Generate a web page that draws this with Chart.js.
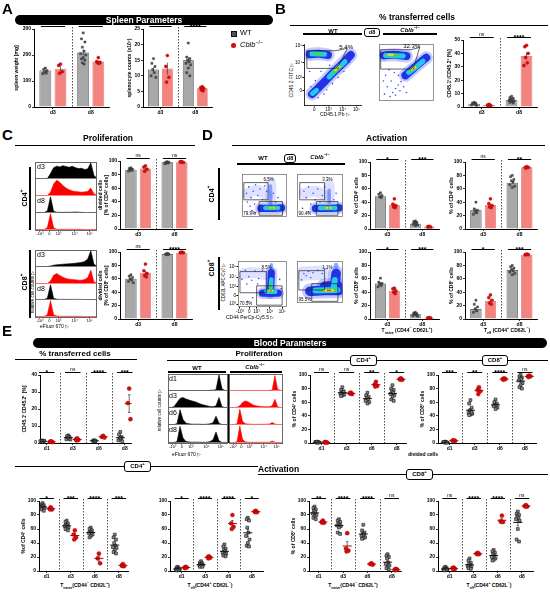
<!DOCTYPE html>
<html>
<head>
<meta charset="UTF-8" />
<title>Spleen and blood parameters</title>
<script src="https://cdn.jsdelivr.net/npm/chart.js"></script>
<style>
  body { margin: 0; background: #fff; font-family: 'Liberation Sans', Arial, sans-serif; }
  #fig { position: relative; width: 550px; height: 595px; overflow: hidden; }
  canvas { z-index: 1; }
  .t { position: absolute; white-space: nowrap; line-height: 1; z-index: 5; }
  .t sup { font-size: 70%; vertical-align: super; line-height: 0; }
  .t sub { font-size: 70%; vertical-align: sub; line-height: 0; }
  .rule { position: absolute; background: #000; z-index: 2; }
  .tag { position: absolute; border: 1px solid #000; border-radius: 3px; background: #fff; font-weight: bold; text-align: center; box-sizing: border-box; z-index: 4; }
  .tag sup { font-size: 70%; vertical-align: super; line-height: 0; }
  .band { position: absolute; background: #000; color: #fff; font-weight: bold; text-align: center; border-radius: 6px; z-index: 3; }
  .frame { position: absolute; border: 0.8px solid #666; box-sizing: border-box; pointer-events: none; z-index: 3; }
</style>
</head>
<body>
<div id="fig"></div>
<script>
// ---- values ----
const days2 = ['d3', 'd8']
const days4 = ['d1', 'd3', 'd6', 'd8']

// A: spleen weight [mg]
const spleenBarWT = [140, 210]
const spleenBarKO = [147, 175]
const spleenWT = [[150, 145, 140, 135, 130, 128], [285, 262, 250, 230, 215, 205, 200, 190, 185, 180, 170, 165]]
const spleenKO = [[165, 160, 136, 130], [190, 175, 172, 170, 168]]

// A: splenocyte counts (x10^7)
const cellsBarWT = [12, 15]
const cellsBarKO = [12.3, 6]
const cellsWT = [[15.5, 14, 13, 12, 11, 10, 9.5], [20.5, 16, 15.5, 15, 14.5, 14, 13.5, 12.5, 11, 10]]
const cellsKO = [[16.5, 13, 9.5, 8], [6.5, 6.2, 6, 5.5, 5.2]]

// B: CD45.1+/CD45.2+ [%]
const transBarWT = [2.5, 5]
const transBarKO = [1.5, 38]
const transWT = [[3.5, 3, 2.8, 2.5, 2, 1.5, 1.2], [8, 7, 6.5, 6, 5.5, 5, 4.5, 4, 3.5, 3]]
const transKO = [[2, 1.5, 1.2, 1], [46, 45, 40, 37, 33, 31]]

// C: divided cells
const divCD4BarWT = [87, 98]
const divCD4BarKO = [89, 98]
const divCD4WT = [[90, 89, 88, 87, 86, 85], [99, 98, 98, 97, 97, 96]]
const divCD4KO = [[93, 91, 88, 85], [99, 99, 98, 98]]
const divCD8BarWT = [60, 97]
const divCD8BarKO = [69, 99]
const divCD8WT = [[66, 64, 62, 60, 58, 56, 54], [98, 97, 97, 96, 96]]
const divCD8KO = [[82, 72, 68, 65, 63], [100, 99, 99, 99]]

// D: activation
const naiveCD4BarWT = [49, 8]
const naiveCD4BarKO = [36, 3.5]
const naiveCD4WT = [[54, 52, 50, 48, 47], [12, 11, 10, 9, 8, 7, 6, 5]]
const naiveCD4KO = [[45, 37, 35, 33, 32], [4, 3.5, 3, 3]]
const effCD4BarWT = [28, 69]
const effCD4BarKO = [36, 92]
const effCD4WT = [[40, 30, 28, 26, 24, 22], [80, 78, 74, 72, 70, 66, 64, 62]]
const effCD4KO = [[45, 38, 35, 33, 32], [93, 92, 92, 91]]
const naiveCD8BarWT = [53, 7]
const naiveCD8BarKO = [42, 1.7]
const naiveCD8WT = [[61, 55, 53, 52, 50, 48], [10, 9, 8, 7, 6, 5, 4]]
const naiveCD8KO = [[46, 45, 42, 40, 38], [2, 1.8, 1.5, 1.5]]
const effCD8BarWT = [15, 73]
const effCD8BarKO = [27, 96]
const effCD8WT = [[28, 22, 18, 15, 12, 10], [80, 78, 76, 74, 72, 70, 68, 66]]
const effCD8KO = [[36, 32, 28, 24, 22], [97, 96, 96, 96]]

// E: blood
const bTransWT = [[1.5, 1.2, 1, 0.8, 0.6, 1, 1.3, 0.9], [4.5, 4, 3.5, 3, 2.5, 2.2, 2, 3.2], [1.6, 1.4, 1.2, 1.0, 1.3], [6.5, 5, 3.5, 2.5, 2, 1.5, 1, 3]]
const bTransKO = [[0.9, 0.7, 0.5, 0.8], [2.8, 2.2, 1.8, 1.5], [4.2, 3.6, 3.2], [32, 23.5, 14]]
const bDivCD4WT = [[2, 1.5, 1, 0.5, 1, 1.5, 0.8, 1.2], [82, 78, 76, 74, 73, 72, 71, 70, 69, 75], [74, 70, 68, 66, 64, 62, 60, 58], [85, 80, 78, 76, 74, 72, 70, 68, 64, 62]]
const bDivCD4KO = [[1.5, 1, 0.5, 1], [74, 73, 72, 73], [90, 86, 84, 83], [95, 94, 93, 93]]
const bDivCD8WT = [[2, 1.5, 1, 0.5, 1, 1.5, 0.5], [63, 58, 52, 48, 46, 44, 43, 42, 41, 45], [64, 60, 58, 56, 55, 54, 52, 50], [100, 98, 96, 95, 94, 92, 88, 85, 82, 80]]
const bDivCD8KO = [[4, 3.5, 3, 3], [82, 78, 76, 72], [95, 94, 94, 93], [99, 98, 98, 97]]
const bNaiveCD4WT = [[97, 95, 94, 93, 92, 91, 90, 89, 88, 86], [72, 70, 68, 66, 65, 64, 62, 61, 60, 58], [62, 60, 58, 56, 55, 54, 52, 50, 48], [52, 48, 45, 40, 36, 34, 33, 30, 27, 25]]
const bNaiveCD4KO = [[91, 89, 88, 88], [58, 52, 48, 45], [25, 18, 11], [10, 8, 7, 7]]
const bEffCD4WT = [[6, 5, 4, 3, 3, 2, 2, 1, 1, 2], [14, 12, 11, 10, 9, 8, 8, 7, 6, 6], [38, 35, 32, 30, 28, 26, 25, 24, 22, 21], [76, 74, 72, 62, 55, 50, 45, 40, 36, 35]]
const bEffCD4KO = [[6, 5, 5, 4], [21, 20, 19, 18], [80, 68, 63, 60], [86, 85, 84, 84]]
const bNaiveCD8WT = [[92, 90, 88, 86, 84, 82, 80, 78, 76, 74], [74, 72, 70, 68, 66, 65, 64, 62, 55, 53], [66, 58, 55, 53, 52, 50, 48, 47, 46], [24, 22, 20, 18, 12, 10, 8, 6, 4, 2]]
const bNaiveCD8KO = [[72, 70, 69, 69], [54, 32, 29, 28], [11, 10, 9, 10], [3, 2, 2, 1]]
const bEffCD8WT = [[6, 5, 4, 3, 3, 2, 2, 1, 1, 2], [18, 15, 12, 10, 8, 7, 6, 5, 4, 3], [30, 28, 26, 24, 22, 20, 18, 16, 15], [85, 82, 80, 78, 76, 74, 72, 60, 45, 42]]
const bEffCD8KO = [[5, 4, 3, 3], [26, 25, 24, 24], [79, 71, 70, 70], [94, 93, 92, 92]]

// eFluor 670 histograms, heights every 5 units of the axis
const histTicks = ['-10³', '0', '10³', '10⁴', '10⁵']
const histTickAt = [8, 23, 38, 64, 88]
const cd4d3WT = [0, 0, 0, 0, 0, 30, 65, 75, 70, 78, 72, 68, 74, 66, 60, 62, 55, 58, 95, 20, 0]
const cd4d3KO = [0, 0, 0, 0, 0, 20, 70, 92, 80, 60, 45, 35, 28, 25, 22, 20, 22, 25, 45, 10, 0]
const cd4d8WT = [0, 0, 0, 0, 10, 95, 8, 2, 1, 1, 1, 1, 2, 3, 2, 1, 0, 0, 0, 0, 0]
const cd4d8KO = [0, 0, 0, 0, 12, 96, 10, 2, 1, 1, 1, 1, 1, 1, 1, 1, 0, 0, 0, 0, 0]
const cd8d3WT = [0, 0, 0, 0, 0, 3, 8, 10, 12, 14, 15, 16, 18, 20, 22, 25, 30, 45, 95, 15, 0]
const cd8d3KO = [0, 0, 0, 0, 0, 15, 50, 60, 48, 38, 30, 26, 24, 22, 20, 20, 24, 35, 80, 10, 0]
const cd8d8WT = [0, 0, 0, 0, 10, 95, 8, 2, 1, 1, 1, 1, 1, 1, 1, 1, 0, 0, 0, 0, 0]
const cd8d8KO = [0, 0, 0, 0, 12, 96, 10, 3, 1, 1, 1, 1, 1, 1, 1, 1, 0, 0, 0, 0, 0]
const bloodWT = [
  [0, 0, 0, 0, 0, 0, 0, 0, 0, 0, 0, 0, 0, 0, 1, 2, 5, 95, 10, 0, 0],
  [0, 0, 5, 30, 55, 60, 52, 45, 40, 35, 28, 20, 15, 10, 6, 4, 10, 60, 5, 0, 0],
  [0, 0, 0, 5, 90, 30, 8, 4, 2, 2, 2, 1, 1, 2, 4, 10, 50, 8, 0, 0, 0],
  [0, 0, 0, 5, 92, 25, 6, 3, 2, 2, 2, 1, 1, 2, 5, 15, 60, 10, 0, 0, 0]
]
const bloodKO = [
  [0, 0, 0, 0, 0, 0, 0, 0, 0, 0, 0, 0, 0, 0, 0, 1, 3, 90, 8, 0, 0],
  [0, 0, 0, 2, 10, 30, 40, 35, 25, 15, 10, 8, 6, 5, 4, 5, 10, 50, 5, 0, 0],
  [0, 0, 0, 5, 92, 20, 5, 3, 2, 1, 1, 1, 1, 1, 2, 3, 12, 3, 0, 0, 0],
  [0, 0, 0, 5, 94, 18, 4, 2, 1, 1, 1, 1, 1, 1, 1, 2, 8, 2, 0, 0, 0]
]

// flow plots: population ridges per density level, on a 0-100 display scale
const flowTicks = ['0', '10³', '10⁴', '10⁵']
const flowTicks5 = ['-10³', '0', '10³', '10⁴', '10⁵']
const flowBWT = {
  blue: [[[10, 83], [26, 84], [42, 82]], [[14, 18], [24, 27], [36, 38], [48, 50], [60, 61], [72, 72], [82, 82]]],
  cyan: [[[14, 84], [36, 83]], [[15, 19], [22, 24]], [[44, 46], [58, 59], [72, 71]]],
  green: [[[18, 84], [30, 84]], [[50, 52], [64, 64]]],
  yellow: [[[55, 57], [63, 63]]],
  red: [[[58, 59], [61, 61]]],
  sparse: [[20, 40], [30, 55], [12, 30], [40, 25], [50, 35], [25, 12], [35, 18], [60, 45], [70, 55], [45, 65], [80, 70], [10, 55]]
}
const flowBKO = {
  blue: [[[8, 80], [28, 81], [50, 79]], [[48, 45], [60, 55], [72, 65], [86, 76]]],
  cyan: [[[12, 80], [44, 79]], [[54, 50], [68, 60], [80, 70]]],
  green: [[[15, 81], [34, 80]], [[57, 53], [68, 61]]],
  yellow: [[[17, 81], [25, 81]], [[60, 55], [66, 59]]],
  red: [[[62, 56], [64, 58]]],
  sparse: [[20, 8], [25, 15], [30, 22], [35, 28], [40, 34], [44, 40], [15, 25], [22, 35], [10, 12], [30, 10], [38, 18], [12, 45], [18, 55], [28, 50], [8, 35], [45, 25], [50, 15], [35, 45]]
}
const flowD4WT = {
  haze: [[[12, 55], [35, 62], [55, 50]], [[64, 80], [64, 40]]],
  lblue: [[[63, 72], [64, 50], [63, 30]]],
  blue: [[[42, 20], [66, 20], [88, 21]]],
  cyan: [[[52, 21], [80, 21]]],
  green: [[[58, 21], [75, 21]]],
  yellow: [[[63, 21], [71, 21]]],
  red: [[[66, 21], [68, 21]]],
  sparse: [[10, 55], [15, 70], [20, 45], [25, 60], [30, 75], [35, 50], [40, 65], [45, 40], [50, 72], [12, 35], [28, 30], [42, 28], [55, 60], [70, 55], [75, 35], [80, 45], [85, 25], [22, 15], [30, 10], [18, 25]]
}
const flowD4KO = {
  haze: [[[15, 55], [40, 60], [60, 50]], [[70, 75], [70, 40]]],
  lblue: [[[70, 62], [70, 35]]],
  blue: [[[40, 20], [68, 20], [92, 21]]],
  cyan: [[[50, 21], [84, 21]]],
  green: [[[58, 21], [78, 21]]],
  yellow: [[[64, 21], [74, 21]]],
  red: [[[68, 21], [70, 21]]],
  sparse: [[15, 60], [25, 70], [35, 55], [45, 65], [20, 45], [40, 40], [55, 50], [60, 70], [30, 30], [50, 35], [80, 40], [85, 55], [12, 20], [25, 12]]
}
const flowD8WT = {
  haze: [[[10, 72], [30, 75], [55, 70]]],
  lblue: [[[68, 92], [68, 60]]],
  blue: [[[68, 75], [67, 50], [66, 30]], [[50, 30], [82, 30]]],
  cyan: [[[68, 60], [67, 42]], [[58, 33], [76, 33]]],
  green: [[[62, 35], [72, 35]], [[67, 48], [67, 38]]],
  yellow: [[[64, 35], [70, 35]]],
  red: [[[66, 35], [68, 35]]],
  sparse: [[8, 60], [15, 80], [22, 66], [35, 78], [42, 62], [50, 80], [28, 58], [18, 50], [40, 50], [85, 60], [88, 40], [30, 20], [20, 12]]
}
const flowD8KO = {
  haze: [[[12, 70], [55, 72]]],
  lblue: [[[85, 90], [84, 50]]],
  blue: [[[28, 28], [60, 30], [92, 30]], [[85, 70], [82, 40]], [[60, 40], [88, 42]]],
  cyan: [[[40, 30], [88, 31]], [[82, 55], [80, 38]]],
  green: [[[52, 30], [82, 31]]],
  yellow: [[[60, 30], [78, 30]]],
  red: [[[66, 30], [73, 30]]],
  sparse: [[15, 70], [25, 75], [35, 72], [20, 65], [45, 78], [55, 70], [30, 60], [10, 55], [60, 80], [88, 60]]
}

// ---- styles ----
const GREY = '#a8a8a8', PINK = '#f3837f', RED = '#d10f0f'
const FONT = "'Liberation Sans', Arial, sans-serif"
const FLOW_LAYERS = [
  ['haze', 'rgba(70,90,255,0.18)', 12],
  ['halo', 'rgba(40,60,255,0.28)', 13],
  ['lblue', 'rgba(60,100,255,0.55)', 4],
  ['blue', '#2233e6', 8],
  ['cyan', '#22c8f0', 5],
  ['green', '#39d957', 3],
  ['yellow', '#f2e02a', 2],
  ['red', '#ee3020', 1.2]
]

Chart.defaults.font.family = FONT
Chart.defaults.color = '#000'
Chart.defaults.animation = false
Chart.defaults.plugins.legend.display = false
Chart.defaults.plugins.tooltip.enabled = false

const fig = document.getElementById('fig')

function canvasAt(l, t, w, h) {
  const c = document.createElement('canvas')
  c.width = w
  c.height = h
  c.style.cssText = `position:absolute;left:${l}px;top:${t}px;width:${w}px;height:${h}px`
  fig.appendChild(c)
  return c
}

function txt(html, x, y, o = {}) {
  const d = document.createElement('div')
  d.className = 't'
  d.innerHTML = html
  let tr = o.align === 'l' ? 'none' : 'translateX(-50%)'
  if (o.rot) tr = 'translate(-50%,-50%) rotate(-90deg)'
  d.style.cssText = `left:${x}px;top:${y}px;font-size:${o.size || 6}px;font-weight:${o.bold ? 'bold' : 'normal'};` +
    `font-style:${o.it ? 'italic' : 'normal'};transform:${tr};color:${o.color || '#000'}`
  fig.appendChild(d)
}

function rule(x1, y1, x2, y2, w = 1) {
  const d = document.createElement('div')
  d.className = 'rule'
  if (y1 === y2) d.style.cssText = `left:${x1}px;top:${y1 - w / 2}px;width:${x2 - x1}px;height:${w}px`
  else d.style.cssText = `left:${x1 - w / 2}px;top:${y1}px;width:${w}px;height:${y2 - y1}px`
  fig.appendChild(d)
}

function tag(html, x1, x2, y1, y2, size = 6) {
  const d = document.createElement('div')
  d.className = 'tag'
  d.innerHTML = html
  d.style.cssText = `left:${x1}px;top:${y1}px;width:${x2 - x1}px;height:${y2 - y1}px;font-size:${size}px;line-height:${y2 - y1 - 2}px`
  fig.appendChild(d)
}

function band(text, x1, x2, y1, y2) {
  const d = document.createElement('div')
  d.className = 'band'
  d.textContent = text
  d.style.cssText = `left:${x1}px;top:${y1}px;width:${x2 - x1}px;height:${y2 - y1}px;font-size:8.5px;line-height:${y2 - y1}px`
  fig.appendChild(d)
}

function frame(l, t, r, b) {
  const d = document.createElement('div')
  d.className = 'frame'
  d.style.cssText = `left:${l}px;top:${t}px;width:${r - l}px;height:${b - t}px`
  fig.appendChild(d)
}

function noPad(s) {
  s.paddingLeft = 0; s.paddingRight = 0; s.paddingTop = 0; s.paddingBottom = 0
}

// separators and significance brackets
function decoPlugin(o) {
  return {
    id: 'deco',
    afterDatasetsDraw(chart) {
      const { ctx, chartArea: a, scales: { x } } = chart
      ctx.save()
      ctx.strokeStyle = '#000'
      ctx.fillStyle = '#000'
      ctx.lineWidth = 0.7
      ctx.setLineDash([1.5, 1.5])
      for (let g = 1; g < o.groups.length; g++) {
        const px = Math.round(x.getPixelForValue(g + 0.5)) + 0.5
        ctx.beginPath(); ctx.moveTo(px, a.top - 2); ctx.lineTo(px, a.bottom); ctx.stroke()
      }
      ctx.setLineDash([])
      ctx.lineWidth = 1
      ctx.textAlign = 'center'
      o.sig.forEach((s, i) => {
        const g = i + 1
        const x1 = x.getPixelForValue(g - o.half), x2 = x.getPixelForValue(g + o.half)
        const yy = a.top - 2.5
        ctx.beginPath(); ctx.moveTo(x1, yy); ctx.lineTo(x2, yy); ctx.stroke()
        if (s === 'ns') { ctx.font = `5px ${FONT}`; ctx.fillText(s, (x1 + x2) / 2, yy - 1.2) }
        else { ctx.font = `bold 7px ${FONT}`; ctx.fillText(s, (x1 + x2) / 2, yy + 2.2) }
      })
      ctx.restore()
    }
  }
}

const JIT = [0, -1, 1, -0.5, 0.5, -1.5, 1.5]

function stats(vals) {
  const n = vals.length
  const m = vals.reduce((s, v) => s + v, 0) / n
  const sd = Math.sqrt(vals.reduce((s, v) => s + (v - m) ** 2, 0) / Math.max(1, n - 1))
  return { m, se: sd / Math.sqrt(n) }
}

// grouped WT / Cblb-/- panel: bars with points (A-D) or points with mean +- SEM (E)
function groupChart(o) {
  const padT = 10, padR = 2, xH = 8
  const W = o.r - o.l, H = o.b - o.t
  const cv = canvasAt(o.l - o.yW, o.t - padT, W + o.yW + padR, H + padT + xH)
  const isBar = !!o.barWT
  const off = isBar ? 0.2 : 0.17
  const jit = isBar ? 0.045 : 0.05
  const ds = []
  const pointsOf = (sets, sign) => {
    const out = []
    sets.forEach((vals, gi) => vals.forEach((v, i) => out.push({ x: gi + 1 + sign * off + JIT[i % 7] * jit, y: v })))
    return out
  }
  const whisk = []
  const meansWT = [], meansKO = []
  o.wt.forEach((vals, gi) => {
    ;[[vals, -1, isBar ? o.barWT[gi] : null, meansWT], [o.ko[gi], 1, isBar ? o.barKO[gi] : null, meansKO]].forEach(([v, sign, bar, store]) => {
      const st = stats(v)
      const m = bar === null ? st.m : bar
      const x = gi + 1 + sign * off
      store.push({ x, y: m })
      whisk.push({ x, y: m - st.se }, { x, y: m + st.se }, { x, y: null })
      if (!isBar) whisk.push({ x: x - 0.05, y: m + st.se }, { x: x + 0.05, y: m + st.se }, { x, y: null },
        { x: x - 0.05, y: m - st.se }, { x: x + 0.05, y: m - st.se }, { x, y: null })
    })
  })
  if (isBar) {
    const bars = []
    o.groups.forEach((g, gi) => { bars.push(meansWT[gi], meansKO[gi]) })
    ds.push({
      type: 'bar', data: bars, order: 3, grouped: false, categoryPercentage: 1, barPercentage: 0.78,
      backgroundColor: bars.map((_, i) => i % 2 ? PINK : GREY),
      borderColor: bars.map((_, i) => i % 2 ? '#e05a5a' : '#333'), borderWidth: 0.7
    })
  } else {
    ds.push({ type: 'scatter', data: meansWT, order: 0, pointStyle: 'line', pointRadius: 4.5, borderColor: '#111', borderWidth: 1 })
    ds.push({ type: 'scatter', data: meansKO, order: 0, pointStyle: 'line', pointRadius: 4.5, borderColor: '#b00', borderWidth: 1 })
  }
  ds.push({ type: 'line', data: whisk, order: 2, borderColor: '#333', borderWidth: 0.7, pointRadius: 0, spanGaps: false, clip: false })
  ds.push({
    type: 'scatter', data: pointsOf(o.wt, -1), order: 1, clip: false, pointStyle: 'rect',
    pointRadius: isBar ? 1.5 : 2, backgroundColor: isBar ? '#555' : '#8a8a8a', borderColor: '#111', borderWidth: isBar ? 0.3 : 0.6
  })
  ds.push({
    type: 'scatter', data: pointsOf(o.ko, 1), order: 1, clip: false, pointStyle: 'circle',
    pointRadius: isBar ? 1.6 : 2.1, backgroundColor: RED, borderColor: '#a00', borderWidth: 0.3
  })

  new Chart(cv, {
    type: isBar ? 'bar' : 'scatter',
    data: { datasets: ds },
    options: {
      responsive: false,
      layout: { padding: { top: padT, right: padR, left: 0, bottom: 0 } },
      scales: {
        x: {
          type: 'linear', min: o.xmin, max: o.xmax, offset: false,
          afterBuildTicks: ax => { ax.ticks = o.groups.map((_, i) => ({ value: i + 1 })) },
          ticks: { callback: v => o.groups[Math.round(v) - 1], font: { size: 5, weight: 'bold' }, padding: 1, autoSkip: false, maxRotation: 0 },
          grid: { drawOnChartArea: false, offset: false, tickLength: 2, color: '#000', lineWidth: 0.8 },
          border: { color: '#000', width: 1 },
          afterFit: s => { s.height = xH; noPad(s) }
        },
        y: {
          min: 0, max: o.ymax,
          ticks: { stepSize: o.ystep, font: { size: 5, weight: 'bold' }, padding: 1 },
          grid: { drawOnChartArea: false, tickLength: 2, color: '#000', lineWidth: 0.8 },
          border: { color: '#000', width: 1 },
          title: { display: !!o.ytitle, text: o.ytitle, font: { size: 5, weight: 'bold' }, padding: { top: 0, bottom: 1 } },
          afterFit: s => { s.width = o.yW; noPad(s) }
        }
      }
    },
    plugins: [decoPlugin({ groups: o.groups, sig: o.sig, half: isBar ? 0.32 : 0.3 })]
  })
}

function histRow(l, t, w, h, vals, color, showTicks) {
  const xH = showTicks ? 7 : 0
  const cv = canvasAt(l, t, w, h + xH)
  new Chart(cv, {
    type: 'line',
    data: { datasets: [{ data: vals.map((v, i) => ({ x: i * 5, y: v })), borderColor: color, backgroundColor: color, borderWidth: 0.6, fill: 'origin', pointRadius: 0, tension: 0 }] },
    options: {
      responsive: false,
      layout: { padding: 0 },
      scales: {
        x: {
          type: 'linear', min: 0, max: 100, display: showTicks,
          afterBuildTicks: ax => { ax.ticks = histTickAt.map(v => ({ value: v })) },
          ticks: { callback: (v, i) => histTicks[i], font: { size: 4 }, padding: 0, autoSkip: false, maxRotation: 0 },
          grid: { drawOnChartArea: false, tickLength: 1.5, color: '#000' },
          border: { display: false },
          afterFit: s => { s.height = xH; noPad(s) }
        },
        y: { min: -3, max: 100, display: false }
      }
    }
  })
}

function histStack(l, r, rows, series) {
  series.forEach(([vals, color], i) => histRow(l, rows[i], r - l, rows[i + 1] - rows[i], vals, color, i === series.length - 1))
  frame(l, rows[0], r, rows[rows.length - 1] + 1)
}

function boxPoly(x1, y1, x2, y2) { return [[x1, y1], [x1, y2], [x2, y2], [x2, y1]] }

function gatePlugin(o) {
  return {
    id: 'gates',
    afterDatasetsDraw(chart) {
      const { ctx, chartArea: a, scales: { x, y } } = chart
      ctx.save()
      if (o.frame) {
        ctx.strokeStyle = '#777'; ctx.lineWidth = 0.8
        ctx.strokeRect(a.left + 0.5, a.top + 0.5, a.right - a.left - 1, a.bottom - a.top - 1)
      }
      ctx.strokeStyle = '#222'; ctx.lineWidth = 0.7
      o.gates.forEach(poly => {
        ctx.beginPath()
        poly.forEach(([gx, gy], i) => {
          const px = x.getPixelForValue(gx), py = y.getPixelForValue(gy)
          i ? ctx.lineTo(px, py) : ctx.moveTo(px, py)
        })
        ctx.closePath(); ctx.stroke()
      })
      ctx.fillStyle = '#000'; ctx.font = `${o.fs}px ${FONT}`; ctx.textBaseline = 'middle'
      o.labels.forEach(([t, lx, ly]) => ctx.fillText(t, x.getPixelForValue(lx), y.getPixelForValue(ly)))
      ctx.restore()
    }
  }
}

function flowPlot(o) {
  const W = o.r - o.l, H = o.b - o.t
  const yW = o.yticks ? 9 : 0, xH = o.xticks ? 6 : 0
  const k = o.k || 1
  const cv = canvasAt(o.l - yW, o.t, W + yW + 1, H + xH + 1)
  const ds = []
  FLOW_LAYERS.forEach(([key, color, width], li) => {
    const paths = key === 'halo' ? (o.data.blue || []) : (o.data[key] || [])
    paths.forEach(path => ds.push({
      type: 'line', data: path.map(p => ({ x: p[0], y: p[1] })), order: 20 - li,
      borderColor: color, borderWidth: width * k, borderCapStyle: 'round', borderJoinStyle: 'round',
      tension: 0.4, pointRadius: 0, fill: false, clip: 0
    }))
  })
  ds.push({ type: 'scatter', data: o.data.sparse.map(p => ({ x: p[0], y: p[1] })), order: 30, pointRadius: 0.8, backgroundColor: '#3a4cff', borderWidth: 0, clip: 0 })
  const axis = (ticks, at, size) => ({
    type: 'linear', min: 0, max: 100, display: !!ticks,
    afterBuildTicks: ax => { ax.ticks = (at || []).map(v => ({ value: v })) },
    ticks: { callback: (v, i) => ticks[i], font: { size: 4.5 }, padding: 0.5, autoSkip: false, maxRotation: 0 },
    grid: { drawOnChartArea: false, tickLength: 1.5, color: '#000' },
    border: { display: !o.frame, color: '#000', width: 0.8 },
    afterFit: s => { if (s.isHorizontal()) s.height = size; else s.width = size; noPad(s) }
  })
  new Chart(cv, {
    type: 'scatter',
    data: { datasets: ds },
    options: {
      responsive: false,
      layout: { padding: { right: 1, top: 0, left: 0, bottom: o.xticks ? 0 : 1 } },
      scales: {
        x: axis(o.xticks, o.xat, xH),
        y: axis(o.yticks, o.yat, yW)
      }
    },
    plugins: [gatePlugin({ frame: o.frame, gates: o.gates, labels: o.labels, fs: o.fs || 4.5 })]
  })
}

// ---- charts ----
groupChart({ l: 34, t: 29, r: 112, b: 107, yW: 20, xmin: 0.5, xmax: 2.5, ymax: 300, ystep: 100, groups: days2,
  ytitle: 'spleen weight [mg]', barWT: spleenBarWT, barKO: spleenBarKO, wt: spleenWT, ko: spleenKO, sig: ['ns', 'ns'] })
groupChart({ l: 143, t: 29, r: 215, b: 107, yW: 16, xmin: 0.5, xmax: 2.5, ymax: 25, ystep: 5, groups: days2,
  ytitle: 'splenocyte counts (x10⁷)', barWT: cellsBarWT, barKO: cellsBarKO, wt: cellsWT, ko: cellsKO, sig: ['ns', '****'] })
groupChart({ l: 463, t: 40, r: 540, b: 107, yW: 16, xmin: 0.5, xmax: 2.5, ymax: 50, ystep: 10, groups: days2,
  ytitle: 'CD45.1⁺/CD45.2⁺ [%]', barWT: transBarWT, barKO: transBarKO, wt: transWT, ko: transKO, sig: ['ns', '****'] })
groupChart({ l: 120, t: 161, r: 195, b: 229, yW: 22, xmin: 0.5, xmax: 2.5, ymax: 100, ystep: 20, groups: days2,
  ytitle: ['divided cells', '[% of CD4⁺ cells]'], barWT: divCD4BarWT, barKO: divCD4BarKO, wt: divCD4WT, ko: divCD4KO, sig: ['ns', 'ns'] })
groupChart({ l: 120, t: 252, r: 195, b: 319, yW: 22, xmin: 0.5, xmax: 2.5, ymax: 100, ystep: 20, groups: days2,
  ytitle: ['divided cells', '[% of CD8⁺ cells]'], barWT: divCD8BarWT, barKO: divCD8BarKO, wt: divCD8WT, ko: divCD8KO, sig: ['ns', '****'] })
groupChart({ l: 370, t: 162, r: 442, b: 229, yW: 16, xmin: 0.5, xmax: 2.5, ymax: 100, ystep: 20, groups: days2,
  ytitle: '% of CD4⁺ cells', barWT: naiveCD4BarWT, barKO: naiveCD4BarKO, wt: naiveCD4WT, ko: naiveCD4KO, sig: ['*', '***'] })
groupChart({ l: 465, t: 162, r: 540, b: 229, yW: 16, xmin: 0.5, xmax: 2.5, ymax: 100, ystep: 20, groups: days2,
  ytitle: '% of CD4⁺ cells', barWT: effCD4BarWT, barKO: effCD4BarKO, wt: effCD4WT, ko: effCD4KO, sig: ['ns', '**'] })
groupChart({ l: 370, t: 252, r: 442, b: 319, yW: 16, xmin: 0.5, xmax: 2.5, ymax: 100, ystep: 20, groups: days2,
  ytitle: '% of CD8⁺ cells', barWT: naiveCD8BarWT, barKO: naiveCD8BarKO, wt: naiveCD8WT, ko: naiveCD8KO, sig: ['*', '***'] })
groupChart({ l: 465, t: 252, r: 540, b: 319, yW: 16, xmin: 0.5, xmax: 2.5, ymax: 100, ystep: 20, groups: days2,
  ytitle: '% of CD8⁺ cells', barWT: effCD8BarWT, barKO: effCD8BarKO, wt: effCD8WT, ko: effCD8KO, sig: ['*', '***'] })

groupChart({ l: 40, t: 375, r: 135, b: 443, yW: 18, xmin: 0.74, xmax: 4.26, ymax: 40, ystep: 10, groups: days4,
  ytitle: 'CD45.1⁺CD45.2⁺ [%]', wt: bTransWT, ko: bTransKO, sig: ['*', 'ns', '****', '***'] })
groupChart({ l: 310, t: 375, r: 410, b: 443, yW: 18, xmin: 0.54, xmax: 4.39, ymax: 100, ystep: 20, groups: days4,
  ytitle: '% of CD4⁺ cells', wt: bDivCD4WT, ko: bDivCD4KO, sig: ['ns', 'ns', '**', '*'] })
groupChart({ l: 438, t: 375, r: 540, b: 443, yW: 18, xmin: 0.54, xmax: 4.46, ymax: 100, ystep: 20, groups: days4,
  ytitle: '% of CD8⁺ cells', wt: bDivCD8WT, ko: bDivCD8KO, sig: ['***', '**', '****', 'ns'] })
groupChart({ l: 39, t: 501, r: 132, b: 571, yW: 18, xmin: 0.68, xmax: 4.4, ymax: 100, ystep: 20, groups: days4,
  ytitle: '%of CD4⁺ cells', wt: bNaiveCD4WT, ko: bNaiveCD4KO, sig: ['*', '***', '****', '***'] })
groupChart({ l: 170, t: 501, r: 267, b: 571, yW: 11, xmin: 0.5, xmax: 4.5, ymax: 100, ystep: 20, groups: days4,
  wt: bEffCD4WT, ko: bEffCD4KO, sig: ['*', '****', '****', '*'] })
groupChart({ l: 309, t: 501, r: 405, b: 571, yW: 18, xmin: 0.6, xmax: 4.4, ymax: 100, ystep: 20, groups: days4,
  ytitle: '% of CD8⁺ cells', wt: bNaiveCD8WT, ko: bNaiveCD8KO, sig: ['**', '****', '****', 'ns'] })
groupChart({ l: 438, t: 501, r: 537, b: 571, yW: 11, xmin: 0.52, xmax: 4.48, ymax: 100, ystep: 20, groups: days4,
  wt: bEffCD8WT, ko: bEffCD8KO, sig: ['ns', '****', '****', 'ns'] })

// histograms
histStack(35, 97, [162, 179, 196, 213, 230], [[cd4d3WT, '#000'], [cd4d3KO, '#f00'], [cd4d8WT, '#000'], [cd4d8KO, '#f00']])
histStack(35, 97, [250, 267, 284, 300, 317], [[cd8d3WT, '#000'], [cd8d3KO, '#f00'], [cd8d8WT, '#000'], [cd8d8KO, '#f00']])
histStack(168, 228, [374, 391, 408, 425, 443], bloodWT.map(v => [v, '#000']))
histStack(229, 283, [374, 391, 408, 425, 443], bloodKO.map(v => [v, '#f00']))

// flow plots
flowPlot({ l: 304, t: 40, r: 364, b: 104, data: flowBWT, frame: false, fs: 6,
  xticks: flowTicks, xat: [18, 43, 68, 92], yticks: flowTicks, yat: [23, 45, 69, 97],
  gates: [[[5, 60], [5, 89], [56, 89], [76, 93], [62, 66], [56, 60]]], labels: [['5.4%', 62, 95]] })
flowPlot({ l: 375, t: 40, r: 437, b: 104, data: flowBKO, frame: true, fs: 6,
  gates: [[[3, 56], [3, 90], [58, 90], [74, 94], [64, 62], [58, 56]]], labels: [['32.3%', 44, 96]] })
flowPlot({ l: 238, t: 170, r: 290, b: 220, data: flowD4WT, frame: true, k: 0.9,
  gates: [boxPoly(4, 40, 58, 80), boxPoly(38, 4, 90, 36)], labels: [['6.5%', 48, 87], ['79.9%', 3, 7]] })
flowPlot({ l: 293, t: 170, r: 346, b: 220, data: flowD4KO, frame: true, k: 0.9,
  gates: [boxPoly(6, 40, 60, 80), boxPoly(42, 4, 89, 36)], labels: [['3.3%', 55, 87], ['90.4%', 3, 7]] })
flowPlot({ l: 238, t: 257, r: 290, b: 306, data: flowD8WT, frame: true, k: 0.9,
  xticks: flowTicks5, xat: [4, 23, 38, 65, 90], yticks: flowTicks5, yat: [6, 25, 44, 65, 88],
  gates: [boxPoly(4, 31, 58, 77), boxPoly(38, 4, 90, 46)], labels: [['8.5%', 48, 85], ['70.5%', 3, 7]] })
flowPlot({ l: 293, t: 257, r: 346, b: 306, data: flowD8KO, frame: true, k: 1.2,
  gates: [boxPoly(4, 31, 60, 77), boxPoly(32, 4, 89, 46)], labels: [['1.1%', 55, 85], ['95.5%', 3, 8]] })

// ---- headings and decorations ----
txt('A', 2, 1, { size: 15, bold: true, align: 'l' })
txt('B', 275, 1, { size: 15, bold: true, align: 'l' })
txt('C', 2, 127, { size: 15, bold: true, align: 'l' })
txt('D', 202, 127, { size: 15, bold: true, align: 'l' })
txt('E', 2, 323, { size: 15, bold: true, align: 'l' })

band('Spleen Parameters', 15, 273, 15, 25)
band('Blood Parameters', 33, 547, 338, 348)

// A legend
const lg1 = document.createElement('div'); lg1.style.cssText = 'position:absolute;left:231px;top:31px;width:4px;height:4px;background:#555;border:0.5px solid #111'; fig.appendChild(lg1)
const lg2 = document.createElement('div'); lg2.style.cssText = `position:absolute;left:231px;top:43px;width:4.5px;height:4.5px;border-radius:50%;background:${RED}`; fig.appendChild(lg2)
txt('WT', 240, 29, { size: 7.5, align: 'l' })
txt('<i>Cblb</i><sup>−/−</sup>', 240, 41, { size: 7.5, align: 'l' })

// B heading
txt('% transferred cells', 417, 13, { size: 8.5, bold: true })
rule(290, 25, 548, 25, 1)
txt('WT', 333, 28, { size: 6, bold: true })
rule(303, 34, 362, 34, 1.5)
tag('d8', 364, 380, 28, 37, 5.5)
txt('<i>Cblb</i><sup>−/−</sup>', 410, 27, { size: 6, bold: true })
rule(383, 34, 437, 34, 1.5)
txt('CD45.2 FITC ▷', 291, 80, { size: 5, rot: true })
txt('CD45.1 Pb ▷', 320, 112, { size: 5, align: 'l' })

// C heading
txt('Proliferation', 108, 134, { size: 8.5, bold: true })
rule(15, 145, 195, 145, 1)
txt('CD4<sup>+</sup>', 24, 198, { size: 7, bold: true, rot: true })
rule(30, 167, 30, 230, 1.5)
txt('CD8<sup>+</sup>', 24, 282, { size: 7, bold: true, rot: true })
rule(30, 250, 30, 318, 1.5)
txt('relative cell counts ▷', 33, 292, { size: 4.5, rot: true })
txt('eFluor 670 ▷', 40, 324, { size: 5, align: 'l' })
txt('d3', 37, 163, { size: 7, align: 'l' })
txt('d8', 37, 197, { size: 7, align: 'l' })
txt('d3', 37, 251, { size: 7, align: 'l' })
txt('d8', 37, 285, { size: 7, align: 'l' })

// D heading
txt('Activation', 366, 134, { size: 8.5, bold: true, align: 'l' })
rule(232, 145, 545, 145, 1)
txt('WT', 263, 155, { size: 6, bold: true })
tag('d8', 284, 296, 154, 163, 5.5)
txt('<i>Cblb</i><sup>−/−</sup>', 320, 154, { size: 6, bold: true })
rule(237, 164, 345, 164, 1.5)
txt('CD4<sup>+</sup>', 211, 194, { size: 7, bold: true, rot: true })
rule(219, 168, 219, 220, 1.5)
txt('CD8<sup>+</sup>', 211, 268, { size: 7, bold: true, rot: true })
rule(219, 257, 219, 310, 1.5)
txt('CD62L APC-Cy7 ▷', 224, 282, { size: 4.5, rot: true })
txt('CD44 PerCp-Cy5.5 ▷', 226, 315, { size: 5, align: 'l' })
txt('T<sub>naive</sub> (CD44<sup>−</sup> CD62L<sup>+</sup>)', 407, 328, { size: 5, bold: true })
txt('T<sub>eff</sub> (CD44<sup>+</sup> CD62L<sup>−</sup>)', 507, 328, { size: 5, bold: true })

// E headings
txt('% transferred cells', 75, 350, { size: 8, bold: true })
rule(15, 359, 137, 359, 1)
txt('Proliferation', 259, 350, { size: 8, bold: true })
rule(167, 360, 548, 360, 1)
tag('CD4<sup>+</sup>', 350, 377, 355, 366, 6)
tag('CD8<sup>+</sup>', 482, 508, 355, 366, 6)
txt('WT', 197, 365, { size: 6, bold: true })
rule(168, 372, 226, 372, 1.5)
txt('<i>Cblb</i><sup>−/−</sup>', 255, 364, { size: 6, bold: true })
rule(230, 372, 282, 372, 1.5)
rule(228, 374, 228, 443, 1.5)
txt('relative cell counts ▷', 160, 410, { size: 4.5, rot: true })
txt('eFluor 670 ▷', 172, 452, { size: 5, align: 'l' })
txt('d1', 169, 375, { size: 7, align: 'l' })
txt('d3', 169, 392, { size: 7, align: 'l' })
txt('d6', 169, 409, { size: 7, align: 'l' })
txt('d8', 169, 426, { size: 7, align: 'l' })
txt('divided cells', 423, 452, { size: 5, bold: true })

txt('Activation', 258, 465, { size: 8.5, bold: true, align: 'l' })
rule(15, 466, 258, 466, 1)
rule(258, 474, 548, 474, 1)
tag('CD4<sup>+</sup>', 124, 151, 461, 472, 6)
tag('CD8<sup>+</sup>', 406, 433, 469, 480, 6)
txt('T<sub>naive</sub>(CD44<sup>−</sup> CD62L<sup>+</sup>)', 85, 583, { size: 5, bold: true })
txt('T<sub>eff</sub>(CD44<sup>+</sup> CD62L<sup>−</sup>)', 210, 583, { size: 5, bold: true })
txt('T<sub>naive</sub>(CD44<sup>−</sup> CD62L<sup>+</sup>)', 353, 583, { size: 5, bold: true })
txt('T<sub>eff</sub>(CD44<sup>+</sup> CD62L<sup>−</sup>)', 489, 583, { size: 5, bold: true })
</script>
</body>
</html>
